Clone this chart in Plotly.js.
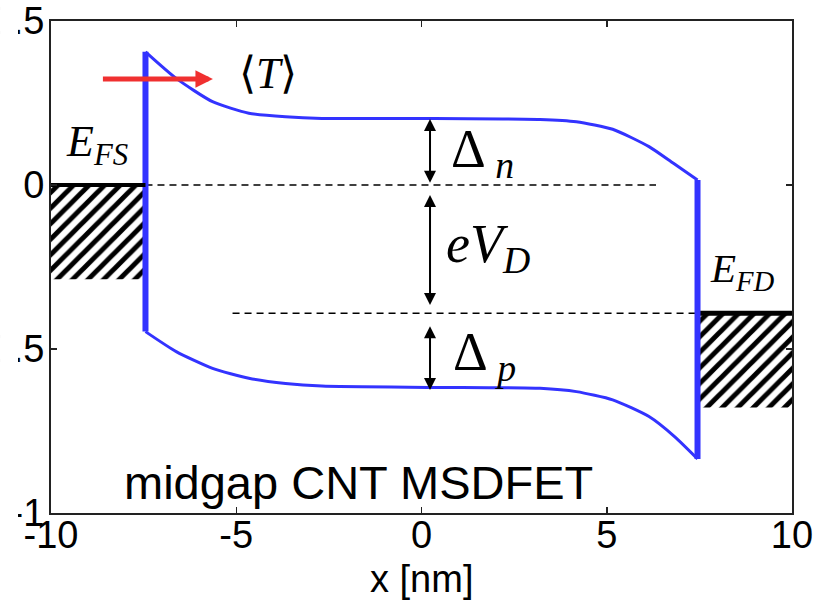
<!DOCTYPE html>
<html><head><meta charset="utf-8">
<script src="https://cdn.plot.ly/plotly-3.0.1.min.js"></script>
<style>html,body{margin:0;padding:0;background:#fff;overflow:hidden}</style>
</head><body>
<div id="chart" style="width:831px;height:603px"></div>
<script>
// Conduction band edge (upper curve)
const cbX = [-7.45, -6.62, -5.64, -4.66, -3.67, -2.69, 0.26, 3.20, 4.18, 5.16, 6.14, 6.80, 7.45];
const cbY = [0.406, 0.325, 0.254, 0.219, 0.208, 0.203, 0.203, 0.200, 0.193, 0.170, 0.117, 0.066, 0.015];
// Valence band edge (lower curve)
const vbX = [-7.45, -6.62, -5.64, -4.66, -3.67, -2.69, 0.26, 3.20, 4.18, 5.16, 6.14, 6.83, 7.45];
const vbY = [-0.447, -0.508, -0.559, -0.589, -0.605, -0.613, -0.617, -0.620, -0.630, -0.655, -0.706, -0.767, -0.835];
// Metal/CNT interfaces (vertical band edges)
const srcEdgeX = [-7.45, -7.45];
const srcEdgeY = [0.406, -0.447];
const drnEdgeX = [7.45, 7.45];
const drnEdgeY = [0.015, -0.835];
// Fermi levels of source and drain
const efsX = [-10, -7.45];
const efsY = [0, 0];
const efdX = [7.45, 10];
const efdY = [-0.391, -0.391];
// Filled states (hatched) in the contacts
const srcFillX = [-10, -7.45, -7.45, -10, -10];
const srcFillY = [0, 0, -0.287, -0.287, 0];
const drnFillX = [7.45, 10, 10, 7.45, 7.45];
const drnFillY = [-0.391, -0.391, -0.678, -0.678, -0.391];
// Dashed reference levels
const dashSX = [-7.45, 6.33];
const dashSY = [0, 0];
const dashDX = [-5.10, 7.45];
const dashDY = [-0.391, -0.391];
// Double arrows (x position, [tip1, tip2])
const dArrowX = 0.23;
const dnArrowY = [0.232, 0.007];
const vdArrowY = [0.0, -0.366];
const dpArrowY = [-0.400, -0.625];
// Red transmission arrow (tail, tip)
const tArrowX = [-8.68, -5.63];
const tArrowY = [0.323, 0.323];
// Axes ticks
const xTicks = [-10, -5, 0, 5, 10];
const xTickText = ['-10', '-5', '0', '5', '10'];
const yTicks = [-1, -0.5, 0, 0.5];
const yTickText = ['-1', '-0.5', '0', '0.5'];

const blue = '#3333ff';
const sans = 'Liberation Sans, Arial, sans-serif';
const serif = 'Liberation Serif, Times New Roman, serif';

const traces = [
  {x: srcFillX, y: srcFillY, mode: 'lines', fill: 'toself', line: {width: 0, color: 'rgba(0,0,0,0)'},
   fillcolor: 'white', fillpattern: {shape: '/', size: 11, solidity: 0.45, fgcolor: 'black', bgcolor: 'white', fgopacity: 1}, hoverinfo: 'skip'},
  {x: drnFillX, y: drnFillY, mode: 'lines', fill: 'toself', line: {width: 0, color: 'rgba(0,0,0,0)'},
   fillcolor: 'white', fillpattern: {shape: '/', size: 11, solidity: 0.45, fgcolor: 'black', bgcolor: 'white', fgopacity: 1}, hoverinfo: 'skip'},
  {x: dashSX, y: dashSY, mode: 'lines', line: {color: 'black', width: 1.5, dash: '7px,5px'}},
  {x: dashDX, y: dashDY, mode: 'lines', line: {color: 'black', width: 1.5, dash: '7px,5px'}},
  {x: efsX, y: efsY, xaxis: 'x2', mode: 'lines', line: {color: 'black', width: 4}, cliponaxis: false},
  {x: efdX, y: efdY, mode: 'lines', line: {color: 'black', width: 5}, cliponaxis: false},
  {x: cbX, y: cbY, mode: 'lines', line: {color: blue, width: 3, shape: 'spline', smoothing: 0.6}},
  {x: vbX, y: vbY, mode: 'lines', line: {color: blue, width: 3, shape: 'spline', smoothing: 0.6}},
  {x: srcEdgeX, y: srcEdgeY, mode: 'lines', line: {color: blue, width: 6}},
  {x: drnEdgeX, y: drnEdgeY, mode: 'lines', line: {color: blue, width: 6}}
];

function dbl(y) {
  return {x: dArrowX, y: y[1], ax: dArrowX, ay: y[0], xref: 'x', yref: 'y', axref: 'x', ayref: 'y',
    text: ' ', showarrow: true, arrowside: 'end+start', arrowhead: 2, startarrowhead: 2,
    arrowsize: 1.2, startarrowsize: 1.2, arrowwidth: 2, arrowcolor: 'black', standoff: 0, startstandoff: 0};
}

const annotations = [
  {x: tArrowX[1], y: tArrowY[1], ax: tArrowX[0], ay: tArrowY[0], xref: 'x', yref: 'y', axref: 'x', ayref: 'y',
   text: ' ', showarrow: true, arrowhead: 2, arrowsize: 0.7, arrowwidth: 5, arrowcolor: '#f03030'},
  dbl(dnArrowY), dbl(vdArrowY), dbl(dpArrowY),
  {x: -4.98, y: 0.34, xref: 'x', yref: 'y', xanchor: 'left', yanchor: 'middle', showarrow: false,
   text: '⟨<i>T</i>⟩', font: {family: serif, size: 44, color: 'black'}},
  {x: -9.66, y: 0.125, xref: 'x', yref: 'y', xanchor: 'left', yanchor: 'middle', showarrow: false,
   text: '<i>E<sub>FS</sub></i>', font: {family: serif, size: 44, color: 'black'}},
  {x: 7.74, y: -0.262, xref: 'x', yref: 'y', xanchor: 'left', yanchor: 'middle', showarrow: false,
   text: '<i>E<sub>FD</sub></i>', font: {family: serif, size: 41, color: 'black'}},
  {x: 0.74, y: 0.098, xref: 'x', yref: 'y', xanchor: 'left', yanchor: 'middle', showarrow: false,
   text: 'Δ<sub> <i>n</i></sub>', font: {family: serif, size: 54, color: 'black'}},
  {x: 0.60, y: -0.190, xref: 'x', yref: 'y', xanchor: 'left', yanchor: 'middle', showarrow: false,
   text: '<i>eV<sub>D</sub></i>', font: {family: serif, size: 54, color: 'black'}},
  {x: 0.80, y: -0.520, xref: 'x', yref: 'y', xanchor: 'left', yanchor: 'middle', showarrow: false,
   text: 'Δ<sub> <i>p</i></sub>', font: {family: serif, size: 54, color: 'black'}},
  {x: -1.71, y: -0.907, xref: 'x', yref: 'y', xanchor: 'center', yanchor: 'middle', showarrow: false,
   text: 'midgap CNT MSDFET', font: {family: sans, size: 47, color: 'black'}},
  {x: 0.5, y: -0.135, xref: 'paper', yref: 'paper', xanchor: 'center', yanchor: 'middle', showarrow: false,
   text: 'x [nm]', font: {family: sans, size: 38, color: 'black'}}
];

const axisCommon = {
  showline: true, linecolor: '#222', linewidth: 2, mirror: 'ticks', ticks: 'inside', ticklen: 6,
  tickwidth: 1.5, tickcolor: '#222', showgrid: false, zeroline: false, automargin: false,
  tickfont: {family: sans, size: 38, color: 'black'}
};

const layout = {
  width: 831, height: 603,
  margin: {l: 51, r: 39, t: 21, b: 90},
  paper_bgcolor: 'white', plot_bgcolor: 'white',
  showlegend: false,
  xaxis: Object.assign({}, axisCommon, {range: [-10, 10], tickmode: 'array', tickvals: xTicks, ticktext: xTickText,
    showticklabels: false}),
  // label-only copy of the x axis, lifted a few pixels to match the reference label spacing
  xaxis2: {overlaying: 'x', matches: 'x', anchor: 'free', position: 0.009, side: 'bottom',
    range: [-10, 10], tickmode: 'array', tickvals: xTicks, ticktext: xTickText, ticks: '',
    showline: false, showgrid: false, zeroline: false, automargin: false,
    tickfont: {family: sans, size: 38, color: 'black'}},
  yaxis: Object.assign({}, axisCommon, {range: [-1, 0.5], tickmode: 'array', tickvals: yTicks, ticktext: yTickText,
    ticklabelstandoff: -3}),
  annotations: annotations,
  shapes: [
    {type: 'rect', xref: 'paper', yref: 'paper', x0: -0.0688, x1: -0.0445, y0: -0.026, y1: 1.05,
     fillcolor: 'white', line: {width: 0}, layer: 'above'}
  ]
};

Plotly.newPlot('chart', traces, layout, {staticPlot: true, displayModeBar: false});
</script>
</body></html>
